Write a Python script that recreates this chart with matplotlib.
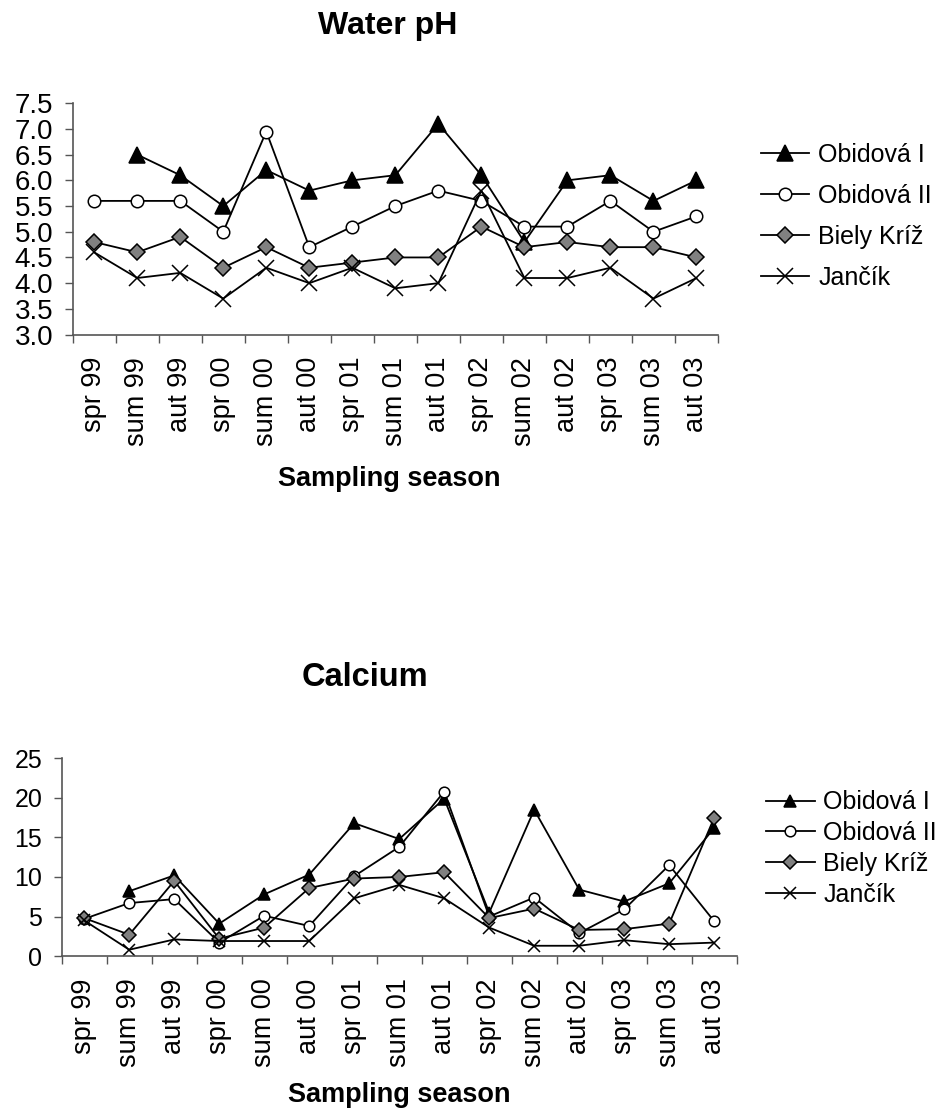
import numpy as np
import matplotlib.pyplot as plt

plt.rcParams['font.family'] = ['Liberation Sans', 'DejaVu Sans']

seasons = ['spr 99', 'sum 99', 'aut 99', 'spr 00', 'sum 00', 'aut 00',
           'spr 01', 'sum 01', 'aut 01', 'spr 02', 'sum 02', 'aut 02',
           'spr 03', 'sum 03', 'aut 03']
sites = ['Obidová I', 'Obidová II', 'Biely Kríž', 'Jančík']

# water pH
ph_obidova1 = [np.nan, 6.5, 6.1, 5.5, 6.2, 5.8, 6.0, 6.1, 7.1, 6.1, 4.8, 6.0, 6.1, 5.6, 6.0]
ph_obidova2 = [5.6, 5.6, 5.6, 5.0, 6.95, 4.7, 5.1, 5.5, 5.8, 5.6, 5.1, 5.1, 5.6, 5.0, 5.3]
ph_biely = [4.8, 4.6, 4.9, 4.3, 4.7, 4.3, 4.4, 4.5, 4.5, 5.1, 4.7, 4.8, 4.7, 4.7, 4.5]
ph_jancik = [4.6, 4.1, 4.2, 3.7, 4.3, 4.0, 4.3, 3.9, 4.0, 5.8, 4.1, 4.1, 4.3, 3.7, 4.1]

# calcium
ca_obidova1 = [np.nan, 8.2, 10.2, 4.1, 7.8, 10.3, 16.8, 14.8, 19.9, 5.5, 18.5, 8.4, 6.9, 9.2, 16.2]
ca_obidova2 = [4.7, 6.7, 7.2, 1.7, 5.1, 3.8, 10.1, 13.8, 20.8, 5.0, 7.4, 2.9, 5.9, 11.5, 4.4]
ca_biely = [4.8, 2.7, 9.5, 2.2, 3.6, 8.6, 9.8, 10.0, 10.6, 4.8, 6.0, 3.3, 3.4, 4.1, 17.5]
ca_jancik = [4.5, 0.8, 2.1, 1.9, 1.9, 1.9, 7.3, 9.0, 7.3, 3.6, 1.3, 1.3, 2.0, 1.5, 1.7]

axis_grey = '#555555'
styles = [dict(marker='^', mfc='black', mec='black'),
          dict(marker='o', mfc='white', mec='black'),
          dict(marker='D', mfc='#808080', mec='black'),
          dict(marker='x', mfc='black', mec='black')]
sizes = [11, 9, 8, 11]


def draw_panel(ax, series, yticks, ylim, fmt, tick_fs, scale):
    x = np.arange(len(seasons))
    for name, vals, st, ms in zip(sites, series, styles, sizes):
        ax.plot(x, vals, color='black', lw=1.3, ms=ms * scale, mew=1.1,
                label=name, **st)
    ax.set_xlim(-0.5, len(seasons) - 0.5)
    ax.set_ylim(*ylim)
    ax.set_yticks(yticks)
    ax.set_yticklabels([fmt % v for v in yticks], fontsize=tick_fs)
    ax.set_xticks(x)
    ax.set_xticklabels(seasons, rotation=90, fontsize=19.5)
    ax.set_xticks(np.arange(-0.5, len(seasons), 1), minor=True)
    ax.tick_params(axis='x', which='major', length=0, pad=16)
    ax.tick_params(axis='x', which='minor', length=6, width=1, color=axis_grey)
    ax.tick_params(axis='y', length=6, width=1, color=axis_grey, pad=8)
    for side in ['top', 'right']:
        ax.spines[side].set_visible(False)
    for side in ['left', 'bottom']:
        ax.spines[side].set_color(axis_grey)
        ax.spines[side].set_linewidth(1.2)


fig = plt.figure(figsize=(9.44, 11.10), dpi=100)

ax1 = fig.add_axes([0.077, 0.6986, 0.6836, 0.2084])
draw_panel(ax1, [ph_obidova1, ph_obidova2, ph_biely, ph_jancik],
           np.arange(3.0, 7.51, 0.5), (3.0, 7.5), '%.1f', 20, 1.0)
ax1.legend(loc='center left', bbox_to_anchor=(0.8058, 0.8054),
           bbox_transform=fig.transFigure, frameon=False, fontsize=18,
           handlelength=1.95, handletextpad=0.35, labelspacing=0.68,
           borderpad=0, borderaxespad=0)

ax2 = fig.add_axes([0.0654, 0.1387, 0.715, 0.1781])
draw_panel(ax2, [ca_obidova1, ca_obidova2, ca_biely, ca_jancik],
           np.arange(0, 26, 5), (0, 25), '%d', 18, 0.85)
ax2.legend(loc='center left', bbox_to_anchor=(0.8114, 0.2356),
           bbox_transform=fig.transFigure, frameon=False, fontsize=18,
           handlelength=1.95, handletextpad=0.35, labelspacing=0.27,
           borderpad=0, borderaxespad=0)

fig.text(388 / 944, 1 - 26 / 1110, 'Water pH', ha='center', va='center',
         fontsize=23, fontweight='bold')
fig.text(389 / 944, 1 - 479 / 1110, 'Sampling season', ha='center',
         va='center', fontsize=19.5, fontweight='bold')
fig.text(365 / 944, 1 - 677 / 1110, 'Calcium', ha='center', va='center',
         fontsize=23.5, fontweight='bold')
fig.text(399 / 944, 1 - 1095 / 1110, 'Sampling season', ha='center',
         va='center', fontsize=19.5, fontweight='bold')

fig.savefig('out.png', dpi=100)
